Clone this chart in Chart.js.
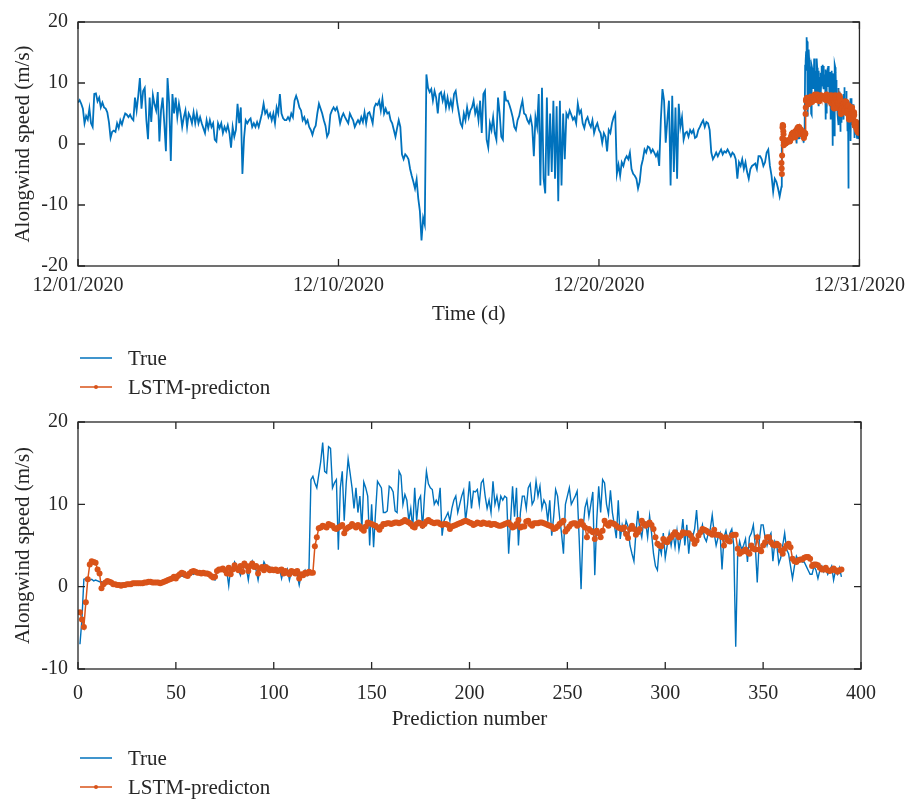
<!DOCTYPE html>
<html>
<head>
<meta charset="utf-8">
<script src="https://cdn.jsdelivr.net/npm/chart.js@4.4.1/dist/chart.umd.min.js"></script>
<style>
  html, body { margin: 0; padding: 0; background: #ffffff; }
  #page { position: relative; width: 913px; height: 801px; }
  canvas { position: absolute; left: 0; }
</style>
</head>
<body>
<div id="page">
  <canvas id="monthChart" width="913" height="400" style="top:0"></canvas>
  <canvas id="predChart" width="913" height="401" style="top:400px"></canvas>
</div>
<script>
// ---- data -------------------------------------------------------------
// Month-long record: 16 samples per day, days 0..27 (before the forecast window)
const samplesPerDay = 16;
const windHistory = [
  6.8, 7.2, 6.6, 5.8, 3.4, 4.6, 4.0, 5.8, 3.4, 2.8, 8.2, 8.3, 7.0, 7.6, 6.0, 6.8,
  6.0, 5.8, 5.2, 3.6, 1.0, 2.0, 2.2, 2.0, 3.4, 2.6, 3.9, 3.2, 4.2, 5.0, 4.8, 4.4,
  4.8, 4.2, 3.9, 7.6, 5.5, 7.9, 10.8, 5.8, 8.7, 9.2, 3.9, 0.8, 7.6, 3.6, 8.0, 6.5,
  5.5, 8.5, 0.4, 5.5, 7.6, 3.4, -1.2, 10.8, 6.6, -2.8, 8.2, 5.0, 7.6, 4.4, 6.6, 5.0,
  2.8, 4.4, 5.5, 2.8, 5.0, 4.4, 3.4, 5.2, 3.4, 5.0, 3.4, 4.4, 3.4, 2.6, 1.8, 3.9,
  2.6, 3.9, 2.8, 3.4, 0.7, 0.4, 3.4, 2.6, 3.4, 1.8, 2.8, 2.1, 3.1, 1.8, -0.6, 2.8,
  1.2, 2.3, 6.6, 3.4, 6.0, -4.9, 1.0, 3.9, 3.4, 3.9, 4.2, 2.8, 3.4, 2.8, 3.6, 2.8,
  3.9, 5.0, 6.6, 5.0, 5.5, 4.4, 5.0, 3.9, 5.0, 3.4, 6.0, 5.0, 8.2, 5.0, 4.2, 3.9,
  3.9, 4.4, 3.9, 5.0, 4.4, 7.1, 7.9, 7.1, 6.0, 5.5, 3.9, 4.4, 3.4, 3.9, 2.8, 2.3,
  1.5, 2.5, 3.0, 5.0, 6.6, 5.8, 5.0, 3.9, 3.0, 1.2, 1.8, 4.8, 5.5, 6.0, 5.5, 6.0,
  5.0, 3.4, 4.4, 5.0, 4.4, 3.9, 3.4, 5.0, 4.4, 3.9, 2.8, 3.4, 3.9, 3.4, 4.4, 3.6,
  5.2, 3.4, 5.0, 5.2, 4.4, 3.4, 6.0, 6.6, 6.4, 7.1, 5.5, 7.4, 5.0, 5.8, 5.0, 5.2,
  3.9, 3.4, 2.3, 1.2, 2.6, 3.9, 2.8, -1.7, -2.5, -1.7, -2.0, -2.5, -4.1, -5.2, -6.2, -7.3,
  -5.8, -8.9, -11.0, -15.8, -12.1, -13.2, 11.4, 9.2, 8.5, 9.0, 7.1, 8.7, 7.6, 5.0, 8.2, 8.5,
  7.1, 8.2, 6.0, 7.6, 6.0, 7.1, 5.8, 8.2, 8.7, 6.6, 5.0, 3.4, 2.8, 5.0, 3.9, 6.0,
  4.4, 5.5, 6.0, 7.1, 5.0, 6.0, 3.9, 7.1, 1.8, 8.2, 8.7, 0.7, -0.6, 3.4, 2.3, 4.4,
  1.8, 0.7, 7.6, 5.0, 1.2, 0.7, 8.7, 7.1, 7.1, 6.4, 5.5, 4.4, 2.8, 2.3, 3.9, 4.6,
  6.0, 7.1, 5.0, 4.8, 3.9, 3.4, 4.4, 2.8, -2.0, 4.4, 2.8, 8.2, -6.8, 9.2, -5.7, -8.1,
  7.6, -5.2, 5.0, -4.6, 7.1, -5.7, 6.2, -9.4, 7.1, -6.8, 5.0, -2.5, 5.0, 4.4, 5.5, 4.8,
  4.0, 4.4, 3.4, 6.6, 5.0, 5.5, 3.4, 2.6, 3.9, 4.4, 3.4, 2.8, 3.9, 1.8, 2.8, 3.4,
  2.3, 1.8, 0.2, 1.8, 1.2, -1.2, 2.3, 1.8, 3.4, 4.4, 5.0, -4.9, -3.4, -5.2, -3.0, -3.6,
  -2.5, -2.0, -2.5, -1.4, -4.1, -4.9, -5.2, -5.7, -7.3, -6.2, -3.6, -2.5, -0.9, -1.4, -0.4, -0.6,
  -1.4, -0.9, -1.4, -2.0, -1.4, -3.6, 3.9, 9.0, 7.1, 0.2, 3.9, 7.1, -6.8, 7.9, -4.6, 6.0,
  -5.7, 6.6, 2.8, 4.4, 0.7, 1.8, 2.0, 1.2, 2.3, 1.8, 2.3, 1.0, 1.2, 2.3, 2.8, 3.4,
  3.9, 2.8, 3.6, 3.4, 2.3, -1.4, -2.5, -2.0, -1.4, -2.0, -1.4, -0.9, -1.7, -1.2, -1.4, -0.9,
  -1.4, -2.0, -1.4, -1.7, -2.5, -5.7, -3.0, -3.6, -2.5, -4.1, -3.0, -4.6, -5.7, -4.1, -3.6, -3.4,
  -3.2, -4.1, -2.0, -2.0, -2.5, -3.6, -3.0, -1.4, -0.9, -3.6, -5.2, -7.8, -5.7, -6.2, -7.3, -8.6
];

// Forecast window: 390 predictions spread over the last 3 days of the month
const windowStartDay = 27;
const windowDays = 3;

// Measured alongwind speed at each prediction step (1..390)
const trueWind = [
  -7.0, -4.0, 0.9, 1.0, 0.9, 0.8, 0.9, 0.7, 0.8, 0.7,
  0.6, 0.6, 0.5, 0.6, 0.5, 0.4, 0.5, 0.4, 0.4, 0.3,
  0.3, 0.4, 0.3, 0.4, 0.3, 0.4, 0.4, 0.3, 0.4, 0.4,
  0.4, 0.5, 0.4, 0.5, 0.5, 0.4, 0.5, 0.5, 0.6, 0.5,
  0.6, 0.6, 0.5, 0.7, 0.6, 0.8, 0.9, 0.8, 1.0, 1.1,
  1.0, 1.2, 1.3, 1.2, 1.4, 1.5, 1.4, 1.6, 1.5, 1.7,
  1.6, 1.5, 1.7, 1.6, 1.5, 1.8, 1.6, 1.4, 0.9, 0.8,
  1.8, 2.1, 1.9, 2.0, 2.2, 1.9, 0.1, 2.4, 2.2, 3.0,
  2.5, 2.0, 1.4, 2.7, 3.0, 2.3, 0.8, 2.5, 3.1, 2.4,
  2.0, 0.8, 2.3, 2.0, 3.0, 2.5, 2.0, 2.4, 1.9, 2.1,
  2.0, 1.8, 2.2, 1.0, 2.0, 1.5, 2.1, 0.8, 1.8, 1.5,
  2.0, 1.4, 0.2, 1.5, 1.6, 2.0, 1.4, 2.2, 13.0, 13.4,
  12.6, 12.0, 13.6, 15.2, 17.5, 14.0, 13.8, 17.0, 16.8, 12.0,
  12.6, 13.0, 4.5, 12.0, 14.0, 8.0, 12.5, 15.5, 13.8, 12.0,
  9.5, 12.0, 9.0, 11.0, 7.0, 12.7, 12.0, 11.0, 5.0, 10.0,
  4.8, 9.0, 12.8, 12.4, 12.0, 9.0, 9.0, 9.2, 12.2, 12.0,
  11.5, 9.2, 9.0, 14.0, 13.5, 10.0, 11.2, 10.5, 8.0, 9.5,
  7.0, 12.0, 8.0, 10.5, 11.0, 7.0, 11.0, 14.0, 12.5, 12.0,
  11.8, 10.0, 10.5, 10.0, 12.0, 6.2, 8.0, 8.5, 9.0, 8.0,
  9.5, 10.5, 11.0, 9.0, 10.0, 11.0, 11.7, 8.0, 10.0, 12.8,
  9.5, 11.6, 11.5, 11.8, 10.0, 12.6, 13.0, 11.0, 9.5, 10.5,
  9.0, 12.8, 10.0, 11.0, 9.5, 11.0, 10.5, 11.0, 10.8, 4.0,
  8.0, 12.2, 8.5, 12.0, 5.0, 9.0, 11.0, 11.0, 9.5, 12.0,
  12.5, 10.0, 10.5, 12.8, 11.0, 12.2, 9.5, 10.5, 10.0, 8.0,
  10.5, 6.2, 8.5, 11.8, 11.0, 8.5, 6.5, 4.0, 10.0, 11.0,
  12.0, 10.0, 10.5, 11.0, 11.6, 6.0, -0.3, 7.0, 9.6, 10.5,
  8.5, 10.0, 11.5, 1.4, 8.0, 12.2, 9.0, 13.0, 12.6, 10.0,
  8.8, 11.7, 9.0, 7.5, 5.9, 10.5, 5.8, 7.5, 6.5, 8.0,
  7.3, 5.0, 4.0, 3.1, 6.5, 9.2, 7.0, 6.0, 8.0, 7.8,
  6.0, 8.6, 6.5, 4.0, 2.5, 2.0, 5.0, 4.0, 6.5, 3.5,
  5.0, 6.5, 5.0, 6.5, 4.8, 6.8, 4.5, 6.0, 8.2, 5.0,
  7.5, 4.0, 6.5, 6.0, 7.0, 9.3, 6.0, 6.5, 7.5, 6.0,
  5.5, 6.5, 7.0, 8.7, 6.5, 5.0, 6.0, 6.5, 2.1, 6.0,
  6.8, 5.5, 6.5, 7.0, 5.0, -7.3, 4.0, 5.5, 4.5, 5.0,
  5.8, 3.0, 6.0, 6.5, 7.5, 5.0, 0.5, 5.5, 7.5, 7.5,
  6.0, 5.0, 6.0, 6.5, 3.1, 5.5, 5.0, 2.8, 3.5, 5.0,
  6.5, 4.5, 4.0, 2.5, 1.0, 2.5, 3.7, 3.2, 3.5, 3.0,
  3.0, 2.5, 2.0, 1.5, 1.5, 2.5, 2.0, 1.0, 2.0, 2.5,
  1.8, 2.2, 1.5, 2.0, 2.5, 0.8, 2.0, 1.5, 2.3, 1.2
];

// LSTM forecast at each prediction step (1..390)
const lstmPred = [
  -3.1, -4.0, -4.9, -1.9, 0.9, 2.7, 3.1, 3.0, 2.9, 2.1,
  1.6, -0.2, 0.3, 0.5, 0.7, 0.6, 0.5, 0.3, 0.3, 0.2,
  0.2, 0.1, 0.2, 0.2, 0.3, 0.3, 0.3, 0.4, 0.4, 0.4,
  0.4, 0.4, 0.4, 0.5, 0.5, 0.6, 0.6, 0.5, 0.5, 0.5,
  0.5, 0.4, 0.5, 0.6, 0.7, 0.8, 0.9, 1.0, 1.2, 1.0,
  1.3, 1.5, 1.7, 1.6, 1.4, 1.3, 1.6, 1.8, 1.9, 1.8,
  1.7, 1.7, 1.6, 1.7, 1.6, 1.6, 1.5, 1.3, 1.1, 1.2,
  1.9, 2.1, 2.1, 2.2, 2.0, 1.6, 2.3, 1.5, 2.1, 2.6,
  2.2, 2.0, 2.5, 1.8, 2.8, 2.5, 1.9, 2.5, 2.8, 2.4,
  2.5, 1.6, 2.2, 2.4, 2.0, 2.4, 2.2, 2.0, 2.1, 2.0,
  2.1, 1.9, 2.0, 2.1, 1.6, 1.9, 1.7, 1.5, 1.9, 1.8,
  1.6, 1.9, 1.0, 1.5, 1.4, 1.7, 1.6, 1.8, 1.7, 1.7,
  4.9, 6.0, 7.1, 7.2, 7.4, 7.3, 7.2, 7.6, 7.5, 7.4,
  7.1, 7.0, 7.2, 7.3, 7.5, 6.5, 7.0, 7.2, 7.3, 7.6,
  7.4, 7.2, 7.5, 7.3, 7.0, 6.8, 7.3, 7.8, 7.7, 7.6,
  7.5, 7.4, 7.2, 6.9, 7.3, 7.6, 7.6, 7.7, 7.7, 7.6,
  7.7, 7.8, 7.8, 7.7, 7.8, 7.9, 8.1, 7.9, 7.8, 7.6,
  7.3, 7.2, 7.6, 7.8, 7.7, 7.4, 7.6, 7.9, 8.1, 7.9,
  7.8, 7.7, 7.8, 7.8, 7.6, 7.5, 7.6, 7.6, 7.5, 7.0,
  7.3, 7.4, 7.5, 7.6, 7.7, 7.8, 7.9, 8.0, 7.9, 7.8,
  7.7, 7.5, 7.6, 7.8, 7.7, 7.6, 7.8, 7.7, 7.6, 7.7,
  7.5, 7.6, 7.6, 7.5, 7.4, 7.4, 7.5, 7.6, 7.7, 7.8,
  7.5, 7.2, 7.3, 7.6, 8.1, 7.2, 7.3, 7.3, 7.9, 8.0,
  7.6, 7.4, 7.7, 7.7, 7.7, 7.8, 7.8, 7.7, 7.6, 7.5,
  7.4, 7.3, 7.0, 7.1, 7.3, 7.6, 7.8, 8.0, 6.7, 7.0,
  7.3, 7.6, 7.7, 7.7, 7.4, 7.6, 7.9, 7.5, 7.2, 6.0,
  7.0, 6.8, 6.6, 5.8, 6.8, 6.5, 6.0, 6.8, 8.0, 7.6,
  7.4, 7.8, 7.7, 7.6, 7.4, 7.2, 7.1, 7.0, 7.2, 6.4,
  5.9, 7.0, 7.4, 7.0, 6.3, 6.6, 7.0, 8.0, 7.6, 7.4,
  7.6, 7.8, 7.5, 7.0, 6.0, 5.2, 5.0, 4.9, 5.8, 5.5,
  5.4, 5.8, 6.0, 6.3, 6.6, 6.3, 6.0, 6.2, 6.6, 6.5,
  6.5, 6.5, 6.2, 5.8, 5.2, 5.6, 6.2, 6.6, 7.0, 6.9,
  6.8, 6.6, 6.5, 6.3, 6.9, 6.3, 6.3, 6.2, 6.0, 5.0,
  6.0, 5.6, 5.5, 6.2, 6.3, 6.3, 4.6, 4.0, 4.2, 4.3,
  4.5, 4.2, 4.0, 5.0, 4.6, 4.5, 6.0, 4.5, 4.3, 5.0,
  5.4, 6.0, 6.0, 5.4, 5.1, 5.0, 5.2, 5.0, 4.4, 4.0,
  4.6, 5.0, 5.2, 4.8, 3.4, 3.1, 3.0, 3.2, 3.3, 3.3,
  3.5, 3.6, 3.6, 3.4, 2.5, 2.7, 2.7, 2.6, 2.3, 2.1,
  2.1, 2.3, 2.0, 1.9, 2.0, 2.2, 2.0, 1.8, 2.0, 2.1
];

// Date tick positions (day offset) and their labels
const dayTicks = [0, 10, 20, 30];
const dayLabels = ['12/01/2020', '12/10/2020', '12/20/2020', '12/31/2020'];

// ---- styling ----------------------------------------------------------
const BLUE = '#0072BD';
const ORANGE = '#D95319';
const INK = '#262626';
const SERIF = "'Liberation Serif', 'DejaVu Serif', serif";

// Boxed axes with inward tick marks on all four sides
const boxedAxes = {
  id: 'boxedAxes',
  afterDatasetsDraw(chart, args, opts) {
    const { ctx, chartArea: a, scales: { x, y } } = chart;
    const len = opts.tickLength;
    ctx.save();
    ctx.strokeStyle = opts.color;
    ctx.lineWidth = opts.lineWidth;
    ctx.beginPath();
    x.ticks.forEach(t => {
      const px = x.getPixelForValue(t.value);
      ctx.moveTo(px, a.bottom); ctx.lineTo(px, a.bottom - len);
      ctx.moveTo(px, a.top); ctx.lineTo(px, a.top + len);
    });
    y.ticks.forEach(t => {
      const py = y.getPixelForValue(t.value);
      ctx.moveTo(a.left, py); ctx.lineTo(a.left + len, py);
      ctx.moveTo(a.right, py); ctx.lineTo(a.right - len, py);
    });
    ctx.stroke();
    ctx.strokeRect(a.left, a.top, a.right - a.left, a.bottom - a.top);
    ctx.restore();
  }
};

// Vertical legend under the plot
const stackedLegend = {
  id: 'stackedLegend',
  afterDraw(chart, args, opts) {
    const ctx = chart.ctx;
    ctx.save();
    ctx.font = opts.font;
    ctx.textBaseline = 'middle';
    chart.data.datasets.forEach((ds, i) => {
      const yy = opts.top + i * opts.rowHeight;
      ctx.strokeStyle = ds.borderColor;
      ctx.lineWidth = 1.5;
      ctx.beginPath();
      ctx.moveTo(opts.left, yy);
      ctx.lineTo(opts.left + opts.lineLength, yy);
      ctx.stroke();
      if (ds.pointRadius > 0) {
        ctx.fillStyle = ds.borderColor;
        ctx.beginPath();
        ctx.arc(opts.left + opts.lineLength / 2, yy, 2, 0, Math.PI * 2);
        ctx.fill();
      }
      ctx.fillStyle = opts.color;
      ctx.fillText(ds.label, opts.left + opts.lineLength + opts.gap, yy + 1);
    });
    ctx.restore();
  }
};

function baseOptions(cfg) {
  return {
    responsive: false,
    animation: false,
    events: [],
    layout: { padding: cfg.padding },
    plugins: {
      legend: { display: false },
      tooltip: { enabled: false },
      boxedAxes: { tickLength: 7, color: INK, lineWidth: 1.3 },
      stackedLegend: { left: 80, top: cfg.legendTop, rowHeight: 29, lineLength: 32, gap: 16, font: '21px ' + SERIF, color: INK }
    },
    scales: {
      x: {
        type: 'linear',
        min: cfg.xMin, max: cfg.xMax,
        grid: { display: false, drawTicks: false },
        border: { display: false },
        ticks: {
          stepSize: cfg.xStep, autoSkip: false, maxRotation: 0,
          padding: cfg.xTickPad, color: INK,
          font: { family: SERIF, size: 20 },
          callback: cfg.xCallback
        },
        title: { display: true, text: cfg.xTitle, color: INK, font: { family: SERIF, size: 21 }, padding: { top: 0, bottom: cfg.xTitlePad } },
        afterFit(scale) { scale.height = cfg.xAxisHeight; }
      },
      y: {
        min: cfg.yMin, max: cfg.yMax,
        grid: { display: false, drawTicks: false },
        border: { display: false },
        ticks: { stepSize: 10, padding: 10, color: INK, font: { family: SERIF, size: 20 } },
        title: { display: true, text: 'Alongwind speed (m/s)', color: INK, font: { family: SERIF, size: 21 }, padding: { top: 11, bottom: 0 } },
        afterFit(scale) { scale.width = 78; }
      }
    }
  };
}

// ---- month overview ------------------------------------------------------
const windowDay = i => windowStartDay + (i + 1) * windowDays / trueWind.length;

new Chart(document.getElementById('monthChart'), {
  type: 'line',
  data: {
    datasets: [
      {
        label: 'True',
        data: windHistory.map((v, i) => ({ x: i / samplesPerDay, y: v }))
          .concat(trueWind.map((v, i) => ({ x: windowDay(i), y: v }))),
        borderColor: BLUE, borderWidth: 1.8, pointRadius: 0, tension: 0, order: 2
      },
      {
        label: 'LSTM-predicton',
        data: lstmPred.map((v, i) => ({ x: windowDay(i), y: v })),
        borderColor: ORANGE, backgroundColor: ORANGE, pointBackgroundColor: ORANGE,
        borderWidth: 1.5, pointRadius: 3, pointBorderWidth: 0, tension: 0, order: 1
      }
    ]
  },
  options: baseOptions({
    padding: { top: 16, right: 52, bottom: 72, left: 0 },
    legendTop: 358,
    xMin: 0, xMax: 30, xStep: 10, xTickPad: 8,
    xCallback: v => { const k = dayTicks.indexOf(v); return k >= 0 ? dayLabels[k] : ''; },
    xTitle: 'Time (d)', xTitlePad: 1, xAxisHeight: 62,
    yMin: -20, yMax: 20
  }),
  plugins: [boxedAxes, stackedLegend]
});

// ---- prediction window ---------------------------------------------------
new Chart(document.getElementById('predChart'), {
  type: 'line',
  data: {
    datasets: [
      {
        label: 'True',
        data: trueWind.map((v, i) => ({ x: i + 1, y: v })),
        borderColor: BLUE, borderWidth: 1.4, pointRadius: 0, tension: 0, order: 2
      },
      {
        label: 'LSTM-predicton',
        data: lstmPred.map((v, i) => ({ x: i + 1, y: v })),
        borderColor: ORANGE, backgroundColor: ORANGE, pointBackgroundColor: ORANGE,
        borderWidth: 1.5, pointRadius: 3, pointBorderWidth: 0, tension: 0, order: 1
      }
    ]
  },
  options: baseOptions({
    padding: { top: 20, right: 52, bottom: 69, left: 0 },
    legendTop: 358,
    xMin: 0, xMax: 400, xStep: 50, xTickPad: 13,
    xCallback: v => v,
    xTitle: 'Prediction number', xTitlePad: 0, xAxisHeight: 63,
    yMin: -10, yMax: 20
  }),
  plugins: [boxedAxes, stackedLegend]
});
</script>
</body>
</html>
